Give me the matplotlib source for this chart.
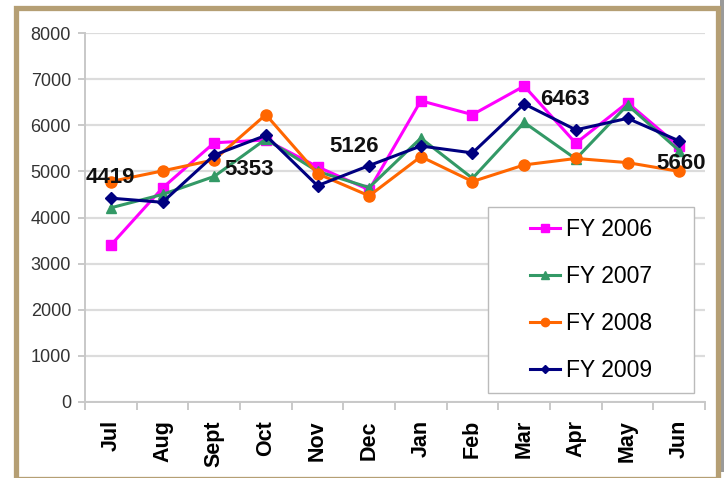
import matplotlib
matplotlib.use("Agg")
import matplotlib.pyplot as plt
from matplotlib.patches import Rectangle

plt.rcParams["font.family"] = ["Liberation Sans", "DejaVu Sans"]

months = ["Jul", "Aug", "Sept", "Oct", "Nov", "Dec", "Jan", "Feb", "Mar", "Apr", "May", "Jun"]

fy2006 = [3400, 4640, 5620, 5680, 5100, 4600, 6530, 6230, 6850, 5610, 6490, 5540]
fy2007 = [4210, 4500, 4890, 5700, 5000, 4650, 5720, 4850, 6060, 5270, 6440, 5450]
fy2008 = [4780, 5010, 5250, 6230, 4950, 4470, 5320, 4780, 5140, 5280, 5190, 5000]
fy2009 = [4419, 4330, 5353, 5780, 4690, 5126, 5550, 5400, 6463, 5900, 6150, 5660]

series_labels = ["FY 2006", "FY 2007", "FY 2008", "FY 2009"]
all_series = [fy2006, fy2007, fy2008, fy2009]
colors = ["#ff00ff", "#339966", "#ff6600", "#000080"]
markers = ["s", "^", "o", "D"]
marker_sizes = [7, 7, 8, 6]

# labelled points of FY 2009: (index, x offset px, y offset px)
labelled = [(0, 0, 21), (2, 35, -14), (5, -15, 19), (8, 41, 4), (11, 2, -23)]

fig = plt.figure(figsize=(7.24, 4.78), dpi=100)
fig.patch.set_facecolor("white")

# tan frame with a soft shadow on the right
fig.add_artist(Rectangle((720 / 724, 6 / 478), 4 / 724, 472 / 478, transform=fig.transFigure,
                         facecolor="#9a9a9a", edgecolor="none", zorder=0))
fig.add_artist(Rectangle((15.5 / 724, -1 / 478), 702 / 724, 471 / 478, transform=fig.transFigure,
                         facecolor="white", edgecolor="#b59f74", linewidth=3.8, zorder=0))

ax = fig.add_axes([85 / 724, 1 - 402 / 478, 620 / 724, 369 / 478])
ax.set_facecolor("none")

x = list(range(len(months)))
for vals, label, color, marker, ms in zip(all_series, series_labels, colors, markers, marker_sizes):
    ax.plot(x, vals, color=color, marker=marker, markersize=ms, linewidth=2.2, label=label)

for i, dx, dy in labelled:
    ax.annotate(str(fy2009[i]), (i, fy2009[i]), xytext=(dx * 0.72, dy * 0.72), textcoords="offset points",
                ha="center", va="center", fontsize=16, fontweight="bold", color="#111111")

ax.set_xlim(-0.5, 11.5)
ax.set_ylim(0, 8000)
ax.set_yticks(range(0, 8001, 1000))
ax.set_xticks(x)
ax.set_xticklabels(months, rotation=90, fontsize=15.5, fontweight="bold")
ax.set_xticks([i - 0.5 for i in range(13)], minor=True)
ax.tick_params(axis="x", which="major", length=0, pad=13)
ax.tick_params(axis="x", which="minor", length=6, color="#c0c0c0", width=1.2)
ax.tick_params(axis="y", length=5, color="#c0c0c0", width=1.2, labelsize=13, labelcolor="#333333", pad=5)

ax.grid(axis="y", color="#dcdcdc", linewidth=1.6)
ax.set_axisbelow(True)
for side in ["top", "right"]:
    ax.spines[side].set_visible(False)
for side in ["left", "bottom"]:
    ax.spines[side].set_color("#c8c8c8")
    ax.spines[side].set_linewidth(1.4)

# legend box drawn separately so it can be as wide as in the original
box_x0, box_x1 = (488 - 85) / 620, (694 - 85) / 620
box_y0, box_y1 = (402 - 393) / 369, (402 - 207) / 369
ax.add_patch(Rectangle((box_x0, box_y0), box_x1 - box_x0, box_y1 - box_y0, transform=ax.transAxes,
                       facecolor="white", edgecolor="#bbbbbb", linewidth=1.0, zorder=5))
leg = ax.legend(loc="center", bbox_to_anchor=((box_x0 + box_x1) / 2, (box_y0 + box_y1) / 2),
                fontsize=16.5, frameon=False, labelspacing=1.05,
                handlelength=1.3, handletextpad=0.25, markerscale=0.75)
leg.set_zorder(6)

fig.savefig("out.png", dpi=100)
